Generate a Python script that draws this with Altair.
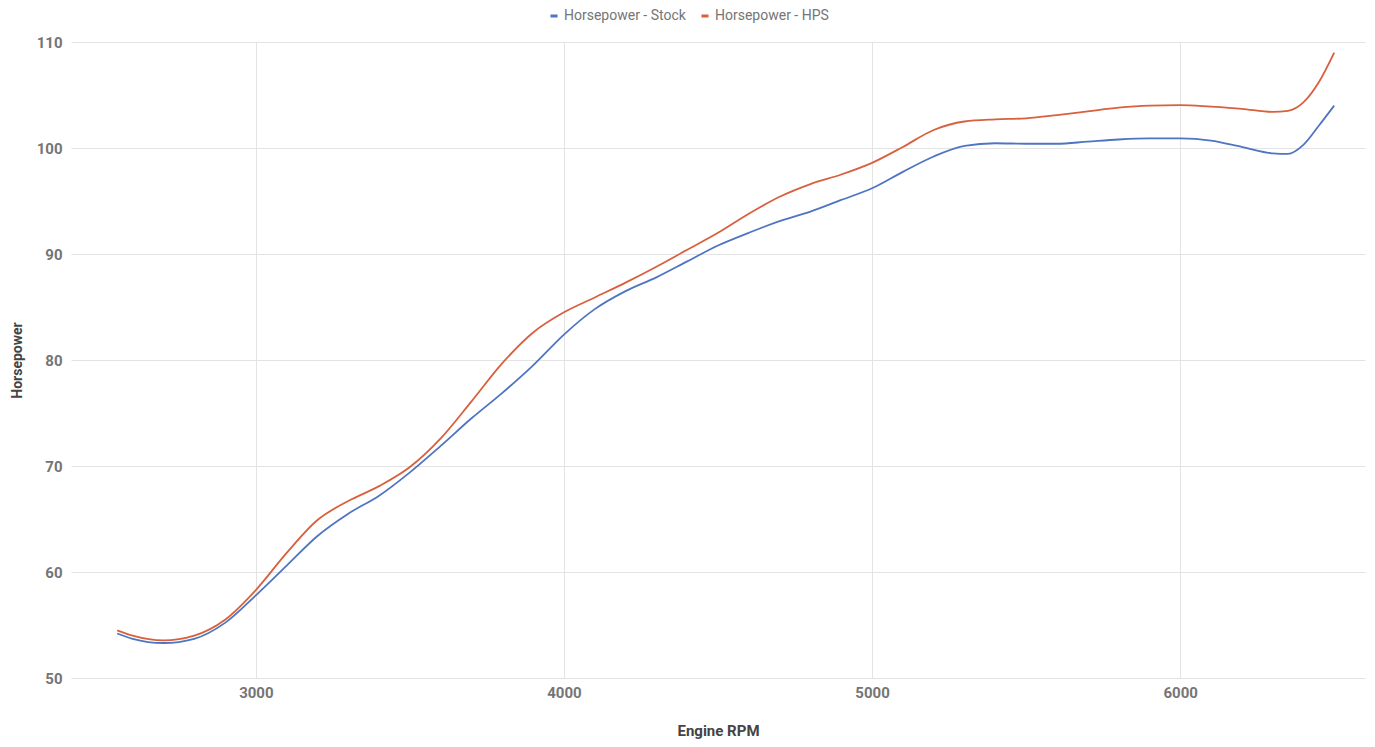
import altair as alt
import pandas as pd

rpm = [2550, 2600, 2700, 2800, 2900, 3000, 3100, 3200, 3300, 3400, 3500, 3600,
       3700, 3800, 3900, 4000, 4100, 4200, 4300, 4400, 4500, 4600, 4700, 4800,
       4900, 5000, 5100, 5200, 5300, 5400, 5500, 5600, 5700, 5800, 5900, 6000,
       6100, 6200, 6300, 6350, 6400, 6450, 6500]
hp_stock = [54.2, 53.7, 53.3, 53.7, 55.2, 57.8, 60.6, 63.4, 65.5, 67.2, 69.4, 71.9,
            74.5, 76.9, 79.5, 82.4, 84.8, 86.5, 87.8, 89.3, 90.8, 92.0, 93.1, 94.0,
            95.1, 96.2, 97.75, 99.2, 100.2, 100.45, 100.4, 100.4, 100.6, 100.8, 100.9, 100.9,
            100.7, 100.1, 99.5, 99.45, 100.3, 102.1, 104.0]
hp_hps = [54.5, 54.0, 53.55, 54.0, 55.5, 58.3, 61.8, 64.9, 66.7, 68.1, 69.9, 72.6,
          76.1, 79.7, 82.6, 84.5, 85.9, 87.3, 88.8, 90.4, 92.0, 93.8, 95.4, 96.6,
          97.5, 98.6, 100.1, 101.7, 102.5, 102.7, 102.8, 103.1, 103.45, 103.8, 104.0, 104.05,
          103.9, 103.7, 103.4, 103.5, 104.3, 106.2, 109.0]
series_names = ["Horsepower - Stock", "Horsepower - HPS"]
series_colors = ["#4f74c2", "#d8603c"]
y_ticks = [50, 60, 70, 80, 90, 100, 110]
x_ticks = [3000, 4000, 5000, 6000]

rows = []
for name, vals in zip(series_names, [hp_stock, hp_hps]):
    for r, v in zip(rpm, vals):
        rows.append({"rpm": r, "hp": v, "series": name})
df = pd.DataFrame(rows)

FONT = "Roboto"

chart = alt.Chart(df).mark_line(interpolate="monotone", strokeWidth=1.8).encode(
    x=alt.X("rpm:Q", title="Engine RPM",
            scale=alt.Scale(domain=[2400, 6600], nice=False, zero=False),
            axis=alt.Axis(values=x_ticks, format="d", domain=False, ticks=False,
                          labelPadding=7, titlePadding=23, labelFontSize=15,
                          labelFontWeight="bold", labelColor="#757575",
                          titleFontSize=15, titleFontWeight="bold", titleColor="#444444",
                          gridColor="#e3e3e3", labelFont=FONT, titleFont=FONT)),
    y=alt.Y("hp:Q", title="Horsepower",
            scale=alt.Scale(domain=[50, 110], nice=False, zero=False),
            axis=alt.Axis(values=y_ticks, domain=False, ticks=False,
                          labelPadding=9, titlePadding=12, labelFontSize=15,
                          labelFontWeight="bold", labelColor="#757575",
                          titleFontSize=14, titleFontWeight="bold", titleColor="#444444",
                          gridColor="#e3e3e3", labelFont=FONT, titleFont=FONT)),
    color=alt.Color("series:N",
                    scale=alt.Scale(domain=series_names, range=series_colors),
                    legend=alt.Legend(title=None, orient="none", direction="horizontal",
                                      legendX=476, legendY=-33, symbolType="stroke",
                                      symbolSize=50, symbolStrokeWidth=3,
                                      labelFont=FONT, labelFontSize=14,
                                      labelColor="#757575", labelOffset=3,
                                      columnPadding=9, padding=0)),
).properties(
    width=1294, height=636,
    autosize=alt.AutoSizeParams(type="none"),
    padding={"left": 63, "top": 34, "right": 2, "bottom": 68},
).configure_view(stroke=None)

chart.save("out.html", embed_options={"renderer": "svg", "actions": False})
